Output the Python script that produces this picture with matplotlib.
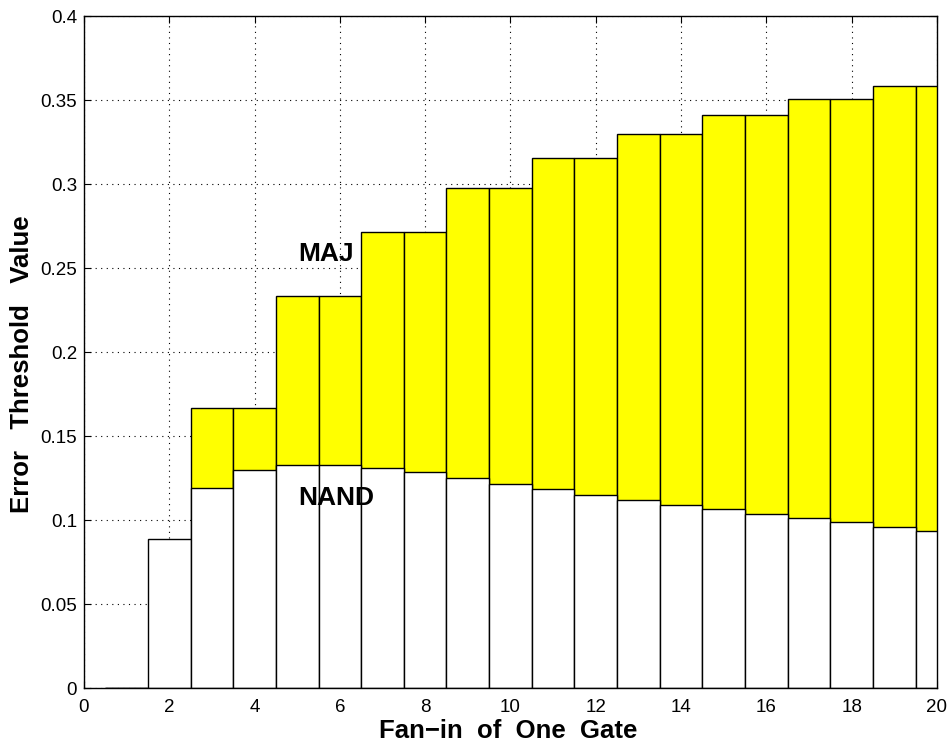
import matplotlib
matplotlib.use("Agg")
import matplotlib.pyplot as plt
import numpy as np

plt.rcParams['font.family'] = ['Liberation Sans', 'DejaVu Sans']

fanin = list(range(1, 21))
maj = [0, 0, 0.1667, 0.1667, 0.2333, 0.2333, 0.2714, 0.2714, 0.2975, 0.2975,
       0.3155, 0.3155, 0.3298, 0.3298, 0.3413, 0.3413, 0.3505, 0.3505, 0.3583, 0.3583]
nand = [0, 0.0885, 0.1188, 0.1300, 0.1330, 0.1330, 0.1310, 0.1283, 0.1250, 0.1217,
        0.1183, 0.1150, 0.1120, 0.1092, 0.1063, 0.1036, 0.1010, 0.0986, 0.0961, 0.0937]
xticks = list(range(0, 21, 2))
yticks = [0, 0.05, 0.1, 0.15, 0.2, 0.25, 0.3, 0.35, 0.4]
ytick_labels = ['0', '0.05', '0.1', '0.15', '0.2', '0.25', '0.3', '0.35', '0.4']

fig = plt.figure(figsize=(9.53, 7.49), dpi=100)
ax = fig.add_axes([0.0881, 0.0814, 0.8951, 0.8972])

ax.grid(True, linestyle=(0, (1, 4)), color='black', linewidth=0.8)
ax.set_axisbelow(True)
ax.bar(fanin, maj, width=1.0, color='#ffff00', edgecolor='black', linewidth=1.0, zorder=2)
ax.bar(fanin, nand, width=1.0, color='white', edgecolor='black', linewidth=1.0, zorder=3)

ax.set_xlim(0, 20)
ax.set_ylim(0, 0.4)
ax.set_xticks(xticks)
ax.set_yticks(yticks)
ax.set_yticklabels(ytick_labels)
ax.tick_params(direction='in', labelsize=13.5, length=5, top=True, right=True)
ax.tick_params(axis='x', pad=8)
ax.tick_params(axis='y', pad=5)
for s in ax.spines.values():
    s.set_linewidth(1.0)
    s.set_zorder(5)

ax.set_xlabel('Fan\u2212in  of  One  Gate', fontsize=18.5, fontweight='bold')
ax.set_ylabel('Error   Threshold   Value', fontsize=18.5, fontweight='bold')
ax.xaxis.set_label_coords(0.497, -0.046)
ax.yaxis.set_label_coords(-0.058, 0.482)

ax.text(5.02, 0.254, 'MAJ', fontsize=19, fontweight='bold', zorder=6)
ax.text(5.02, 0.109, 'NAND', fontsize=19, fontweight='bold', zorder=6)

fig.savefig('out.png', dpi=100)
